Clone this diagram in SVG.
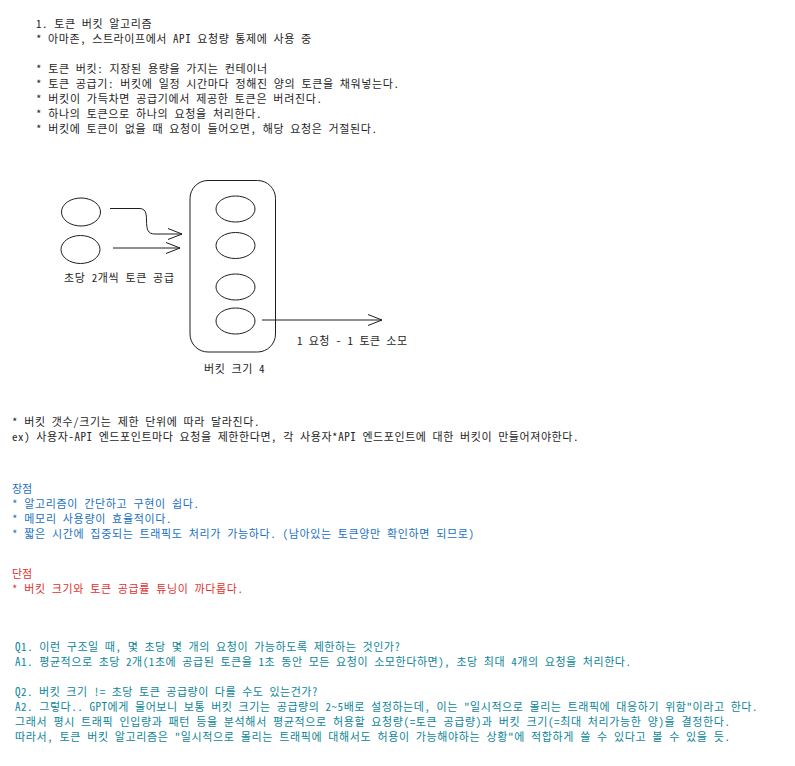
<svg xmlns="http://www.w3.org/2000/svg" width="795" height="766" viewBox="0 0 795 766">
<defs>
<style>
text{font-family:"Noto Sans Mono CJK KR","Noto Sans CJK KR","DejaVu Sans Mono",monospace;font-size:11px;}
.k{fill:#1e1e1e;}
.b{fill:#1971c2;}
.r{fill:#e03131;}
.t{fill:#0c8599;}
.s{fill:none;stroke:#1e1e1e;stroke-width:1;}
</style>
<marker id="arr" viewBox="0 0 16 12" refX="15" refY="6" markerWidth="16" markerHeight="12" markerUnits="userSpaceOnUse" orient="auto">
<path d="M1,0.5 L15,6 L1,11.5" fill="none" stroke="#1e1e1e" stroke-width="1"/>
</marker>
</defs>
<rect width="795" height="766" fill="#ffffff"/>

<g id="intro">
<text class="k" x="36" y="28" textLength="115.5" lengthAdjust="spacing">1. 토큰 버킷 알고리즘</text>
<text class="k" x="36" y="43" textLength="275" lengthAdjust="spacing">* 아마존, 스트라이프에서 API 요청량 통제에 사용 중</text>
<text class="k" x="36" y="73" textLength="231" lengthAdjust="spacing">* 토큰 버킷: 지장된 용량을 가지는 컨테이너</text>
<text class="k" x="36" y="88" textLength="363" lengthAdjust="spacing">* 토큰 공급기: 버킷에 일정 시간마다 정해진 양의 토큰을 채워넣는다.</text>
<text class="k" x="36" y="103" textLength="286" lengthAdjust="spacing">* 버킷이 가득차면 공급기에서 제공한 토큰은 버려진다.</text>
<text class="k" x="36" y="118" textLength="225.5" lengthAdjust="spacing">* 하나의 토큰으로 하나의 요청을 처리한다.</text>
<text class="k" x="36" y="133" textLength="341" lengthAdjust="spacing">* 버킷에 토큰이 없을 때 요청이 들어오면, 해당 요청은 거절된다.</text>
</g>

<g id="supply-tokens">
<ellipse class="s" cx="81" cy="212" rx="19.5" ry="14"/>
<ellipse class="s" cx="80.5" cy="249.5" rx="19.5" ry="14"/>
<text class="k" x="64" y="282" textLength="110" lengthAdjust="spacing">초당 2개씩 토큰 공급</text>
</g>

<g id="bucket">
<rect class="s" x="190" y="180.5" width="85.5" height="171.5" rx="18" ry="18"/>
<ellipse class="s" cx="235.5" cy="209" rx="19.5" ry="13"/>
<ellipse class="s" cx="235.5" cy="245.5" rx="19.5" ry="13"/>
<ellipse class="s" cx="235.5" cy="287" rx="19.5" ry="13"/>
<ellipse class="s" cx="235.5" cy="321" rx="19.5" ry="13"/>
<text class="k" x="204" y="373" textLength="60.5" lengthAdjust="spacing">버킷 크기 4</text>
</g>

<g id="consume-label">
<text class="k" x="297" y="345" textLength="110" lengthAdjust="spacing">1 요청 - 1 토큰 소모</text>
</g>

<g id="connectors">
<path class="s" d="M110,208.5 H139 C145,208.5 146.5,212 146.5,220 C146.5,230 148,234 155,234 H182" marker-end="url(#arr)"/>
<path class="s" d="M113,248 H180" marker-end="url(#arr)"/>
<path class="s" d="M262,320 H382" marker-end="url(#arr)"/>
</g>

<g id="notes">
<text class="k" x="12" y="426" textLength="247.5" lengthAdjust="spacing">* 버킷 갯수/크기는 제한 단위에 따라 달라진다.</text>
<text class="k" x="12" y="441" textLength="566.5" lengthAdjust="spacing">ex) 사용자-API 엔드포인트마다 요청을 제한한다면, 각 사용자*API 엔드포인트에 대한 버킷이 만들어져야한다.</text>
</g>

<g id="pros">
<text class="b" x="12" y="493">장점</text>
<text class="b" x="12" y="508" textLength="187" lengthAdjust="spacing">* 알고리즘이 간단하고 구현이 쉽다.</text>
<text class="b" x="12" y="523" textLength="159.5" lengthAdjust="spacing">* 메모리 사용량이 효율적이다.</text>
<text class="b" x="12" y="538" textLength="462" lengthAdjust="spacing">* 짧은 시간에 집중되는 트래픽도 처리가 가능하다. (남아있는 토큰양만 확인하면 되므로)</text>
</g>

<g id="cons">
<text class="r" x="12" y="578">단점</text>
<text class="r" x="12" y="593" textLength="231" lengthAdjust="spacing">* 버킷 크기와 토큰 공급률 튜닝이 까다롭다.</text>
</g>

<g id="qa">
<text class="t" x="15" y="651" textLength="385" lengthAdjust="spacing">Q1. 이런 구조일 때, 몇 초당 몇 개의 요청이 가능하도록 제한하는 것인가?</text>
<text class="t" x="15" y="666" textLength="616" lengthAdjust="spacing">A1. 평균적으로 초당 2개(1초에 공급된 토큰을 1초 동안 모든 요청이 소모한다하면), 초당 최대 4개의 요청을 처리한다.</text>
<text class="t" x="15" y="696" textLength="302.5" lengthAdjust="spacing">Q2. 버킷 크기 != 초당 토큰 공급량이 다를 수도 있는건가?</text>
<text class="t" x="15" y="711" textLength="742.5" lengthAdjust="spacing">A2. 그렇다.. GPT에게 물어보니 보통 버킷 크기는 공급량의 2~5배로 설정하는데, 이는 "일시적으로 몰리는 트래픽에 대응하기 위함"이라고 한다.</text>
<text class="t" x="15" y="726" textLength="715" lengthAdjust="spacing">그래서 평시 트래픽 인입량과 패턴 등을 분석해서 평균적으로 허용할 요청량(=토큰 공급량)과 버킷 크기(=최대 처리가능한 양)을 결정한다.</text>
<text class="t" x="15" y="741" textLength="715" lengthAdjust="spacing">따라서, 토큰 버킷 알고리즘은 "일시적으로 몰리는 트래픽에 대해서도 허용이 가능해야하는 상황"에 적합하게 쓸 수 있다고 볼 수 있을 듯.</text>
</g>
</svg>
